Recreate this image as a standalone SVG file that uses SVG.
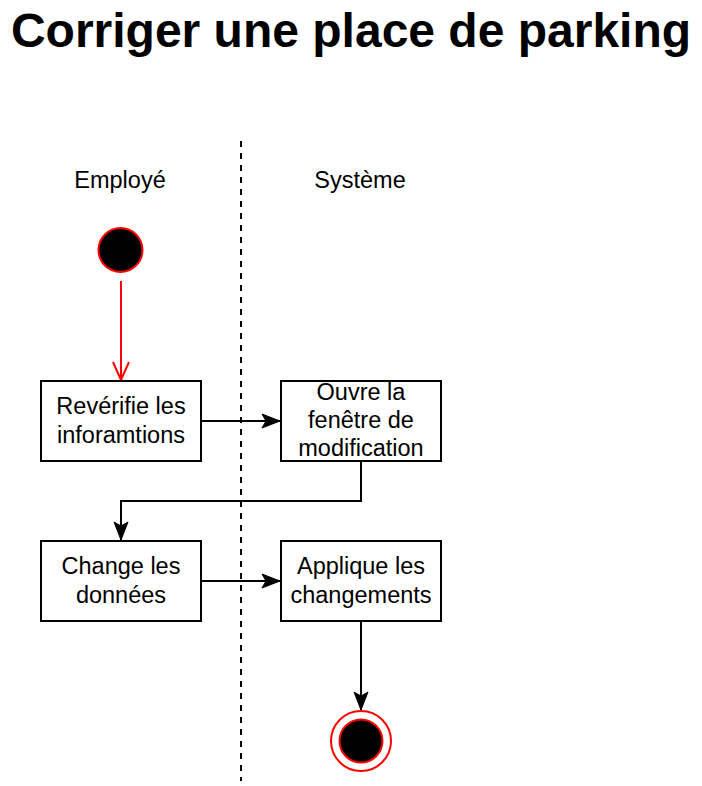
<svg xmlns="http://www.w3.org/2000/svg" width="702" height="786" viewBox="0 0 702 786">
<defs>
<style>
.t{font-family:"Liberation Sans",Arial,sans-serif;font-size:23.5px;fill:#000;text-anchor:middle}
.title{font-family:"Liberation Sans",Arial,sans-serif;font-size:48px;font-weight:bold;fill:#000;text-anchor:middle}
.box{fill:#fff;stroke:#000;stroke-width:2}
.c{fill:none;stroke:#000;stroke-width:2}
</style>
<marker id="ah" viewBox="0 0 20 20" refX="19" refY="10" markerWidth="20" markerHeight="20" markerUnits="userSpaceOnUse" orient="auto">
<path d="M1,3 L19,10 L1,17 L5,10 Z" fill="#000" stroke="#000" stroke-width="1"/>
</marker>
<marker id="open" viewBox="0 0 20 20" refX="19" refY="10" markerWidth="20" markerHeight="20" markerUnits="userSpaceOnUse" orient="auto">
<path d="M1,2 L19,10 L1,18" fill="none" stroke="#f00" stroke-width="2"/>
</marker>
</defs>
<rect width="702" height="786" fill="#fff"/>
<text class="title" x="351" y="47">Corriger une place de parking</text>
<line x1="241" y1="141" x2="241" y2="781" stroke="#000" stroke-width="2" stroke-dasharray="6 6"/>
<text class="t" x="120" y="188">Employé</text>
<text class="t" x="360" y="188">Système</text>
<g id="connectors">
<line x1="121" y1="281" x2="121" y2="380" stroke="#f00" stroke-width="2" marker-end="url(#open)"/>
<path class="c" d="M201,421 H280" marker-end="url(#ah)"/>
<path class="c" d="M361,461 V501 H121 V540" marker-end="url(#ah)"/>
<path class="c" d="M201,581 H280" marker-end="url(#ah)"/>
<path class="c" d="M361,621 V710" marker-end="url(#ah)"/>
</g>
<g id="start"><circle cx="120.5" cy="250" r="22" fill="#000" stroke="#f00" stroke-width="2"/></g>
<g id="n1"><rect class="box" x="41" y="381" width="160" height="80"/>
<text class="t" x="121" y="414">Revérifie les</text><text class="t" x="121" y="443">inforamtions</text></g>
<g id="n2"><rect class="box" x="281" y="381" width="160" height="80"/>
<text class="t" x="361" y="400">Ouvre la</text><text class="t" x="361" y="428">fenêtre de</text><text class="t" x="361" y="456">modification</text></g>
<g id="n3"><rect class="box" x="41" y="541" width="160" height="80"/>
<text class="t" x="121" y="574">Change les</text><text class="t" x="121" y="603">données</text></g>
<g id="n4"><rect class="box" x="281" y="541" width="160" height="80"/>
<text class="t" x="361" y="574">Applique les</text><text class="t" x="361" y="603">changements</text></g>
<g id="end"><circle cx="361" cy="741" r="30" fill="#fff" stroke="#f00" stroke-width="2"/><circle cx="361" cy="741" r="21.5" fill="#000" stroke="#f00" stroke-width="2"/></g>
</svg>
